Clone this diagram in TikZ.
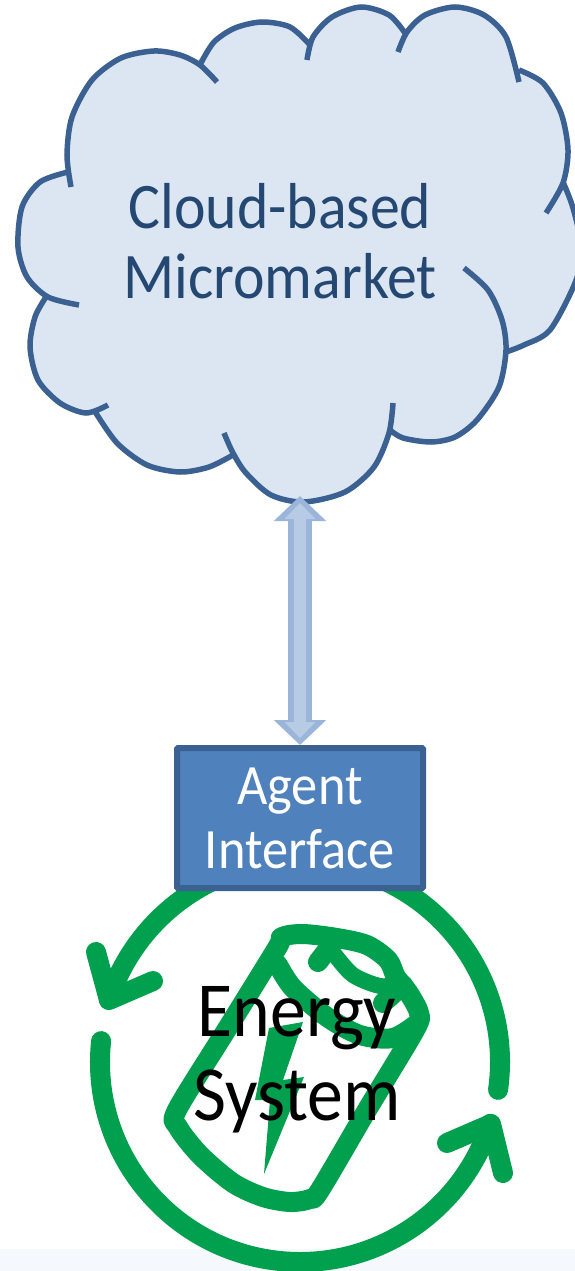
\documentclass[tikz,border=0pt]{standalone}
\usepackage{fontspec}
\setmainfont[FakeStretch=0.92]{Carlito}
\usetikzlibrary{arrows.meta}
\definecolor{cloudfill}{HTML}{DCE6F2}
\definecolor{cloudline}{HTML}{3A6191}
\definecolor{cloudtext}{HTML}{254873}
\definecolor{agentfill}{HTML}{4F81BD}
\definecolor{linkfill}{HTML}{B7CCE4}
\definecolor{linkline}{HTML}{9AB5D9}
\definecolor{energygreen}{HTML}{00A04F}
\definecolor{floorblue}{HTML}{F5F9FE}
% the lobes of the cloud, each one its own open stroke
\newcommand{\cloudlobes}{
	plot[smooth] coordinates {(71,187) (67,155) (72,117) (92,80) (121,58) (154,51) (180,55) (200,65) (217,82)}
	plot[smooth] coordinates {(201,63) (214,42) (235,28) (262,22) (290,27) (310,45)}
	plot[smooth] coordinates {(307,60) (313,37) (332,17) (361,7) (389,15) (405,33)}
	plot[smooth] coordinates {(398,52) (407,32) (425,15) (455,7) (484,15) (506,37) (519,82)}
	plot[smooth] coordinates {(519,70) (543,83) (561,113) (568,150) (563,183) (546,213)}
	plot[smooth] coordinates {(563,182) (573,208) (582,250) (575,283) (550,330) (524,345) (506,352)}
	plot[smooth] coordinates {(464,268) (488,290) (502,320) (506,350) (499,387) (477,420) (455,437) (431,442) (403,438) (390,430)}
	plot[smooth] coordinates {(393,403) (389,433) (374,467) (345,492) (304,502) (271,495) (246,473) (233,453) (224,433)}
	plot[smooth] coordinates {(233,455) (209,467) (180,472) (147,465) (117,443) (94,410)}
	plot[smooth] coordinates {(108,405) (86,413) (60,403) (38,380) (30,347) (35,317) (46,297)}
	plot[smooth] coordinates {(79,305) (48,297) (27,277) (18,247) (22,207) (40,182) (68,172)}
}
\begin{document}
\begin{tikzpicture}[x=1pt, y=-1pt,
	cloudstroke/.style={draw=cloudline, line width=5.5pt},
	cloudbody/.style={fill=cloudfill, draw=cloudfill, line width=1pt},
	agentbox/.style={draw=cloudline, fill=agentfill, line width=6pt, rounded corners=1pt, minimum width=246pt, minimum height=140pt, inner sep=0pt},
	label/.style={align=center, inner sep=0pt},
	cycleline/.style={draw=energygreen, line width=20pt, line cap=round, line join=round}]
	\clip (0,0) rectangle (575,1271);
	\fill[floorblue] (0,1249) rectangle (575,1271);
	% cloud
	\path[cloudbody] (68,172) -- (210,50) -- (300,40) -- (400,35) -- (519,75) -- (563,185) -- (506,352) -- (390,430) -- (233,455) -- (94,410) -- (46,297) -- cycle;
	\path[cloudbody] \cloudlobes;
	\draw[cloudstroke] \cloudlobes;
	\node[label, text=cloudtext, font=\fontsize{65}{70}\selectfont] (micromarket) at (280,241) {Cloud-based\\Micromarket};
	\coordinate (cloudtip) at (300,496);
	% cycle round the battery
	\coordinate (hub) at (300,1062);
	\draw[cycleline] ([shift={(255:201)}]hub) arc [start angle=255, end angle=198, radius=201];
	\draw[cycleline] (96,952) -- (109,1000) -- (153,981);
	\draw[cycleline] ([shift={(-70:200)}]hub) arc [start angle=-70, end angle=8, radius=200];
	\draw[cycleline] ([shift={(186:200)}]hub) arc [start angle=186, end angle=18, radius=200];
	\draw[cycleline] (447,1143) -- (491,1124) -- (503,1173);
	% battery
	\draw[cycleline] plot[smooth cycle, tension=0.5] coordinates {(320,1190) (367,1110) (415,1030) (419,1013) (408,992) (396,977) (388,960) (367,945) (337,938) (303,934) (282,937) (277,948) (227,1029) (177,1110) (178,1127) (200,1155) (233,1183) (263,1197) (290,1202) (310,1199)};
	\draw[cycleline] plot[smooth] coordinates {(278,965) (293,988) (327,1017) (360,1035) (393,1038) (418,1023)};
	\draw[cycleline] (318,962) -- (335,940);
	\draw[cycleline, line width=16pt] plot[smooth] coordinates {(335,955) (353,975) (380,986) (402,984)};
	\draw[cycleline] (403,985) -- (383,1003);
	\fill[energygreen] (269,1028) -- (303,1022) -- (283,1080) -- (304,1077) -- (264,1174) -- (270,1100) -- (255,1100) -- cycle;
	\node[label, text=black, font=\fontsize{78}{84}\selectfont] (energy) at (297,1060) {Energy\\System};
	% agent and link
	\node[agentbox, text=white, font=\fontsize{57}{64}\selectfont, align=center] (agent) at (300,818) {Agent\\Interface};
	\draw[draw=linkline, line width=24pt, {Triangle[length=25pt, width=51pt]}-{Triangle[length=25pt, width=51pt]}] (agent.north) -- (cloudtip);
	\draw[draw=linkfill, line width=12pt, shorten <=7pt, shorten >=7pt, {Triangle[length=16pt, width=30pt]}-{Triangle[length=16pt, width=30pt]}] (agent.north) -- (cloudtip);
\end{tikzpicture}
\end{document}
